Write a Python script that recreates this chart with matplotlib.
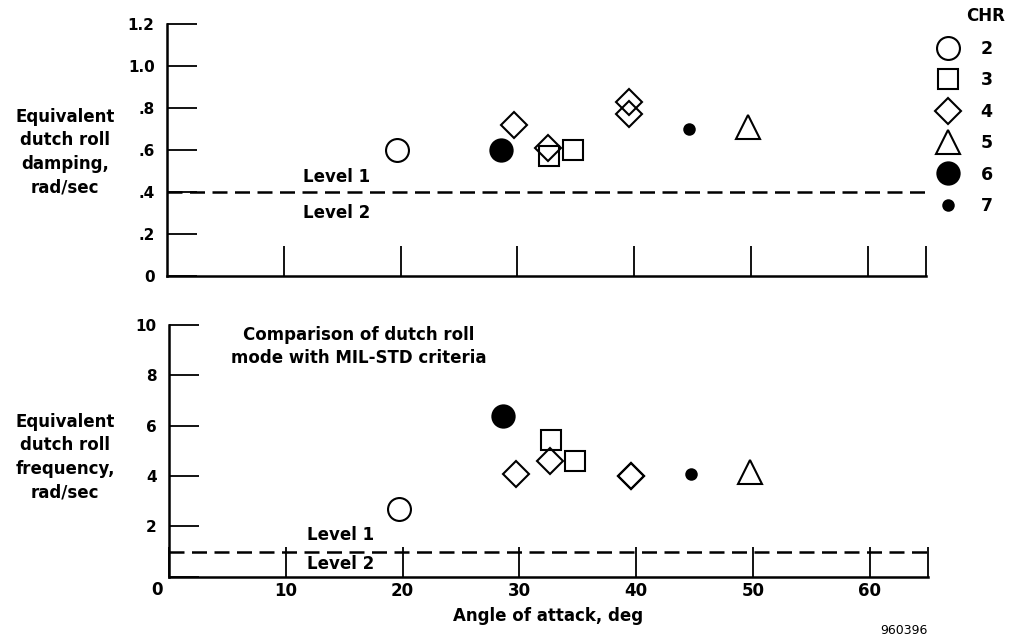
import matplotlib.pyplot as plt
from matplotlib.lines import Line2D

plt.rcParams["font.family"] = ["DejaVu Sans"]
plt.rcParams["font.weight"] = "bold"

# Data, grouped by Cooper-Harper rating (CHR)
chr_ratings = ["2", "3", "4", "5", "6", "7"]

# angle of attack, deg
alpha_chr2 = [19.7]
alpha_chr3 = [32.7, 34.8]
alpha_chr4 = [29.7, 32.6, 39.6, 39.6]
alpha_chr5 = [49.8]
alpha_chr6 = [28.6]
alpha_chr7 = [44.7]

# equivalent dutch roll damping
damp_chr2 = [0.60]
damp_chr3 = [0.57, 0.60]
damp_chr4 = [0.72, 0.61, 0.83, 0.77]
damp_chr5 = [0.71]
damp_chr6 = [0.60]
damp_chr7 = [0.70]

# equivalent dutch roll frequency, rad/sec
freq_chr2 = [2.7]
freq_chr3 = [5.45, 4.6]
freq_chr4 = [4.1, 4.6, 4.0, 4.0]
freq_chr5 = [4.15]
freq_chr6 = [6.4]
freq_chr7 = [4.1]

# MIL-STD level 1 / level 2 boundaries
damp_limit = 0.4
freq_limit = 1.0

alphas = [alpha_chr2, alpha_chr3, alpha_chr4, alpha_chr5, alpha_chr6, alpha_chr7]
damps = [damp_chr2, damp_chr3, damp_chr4, damp_chr5, damp_chr6, damp_chr7]
freqs = [freq_chr2, freq_chr3, freq_chr4, freq_chr5, freq_chr6, freq_chr7]

# marker style for each rating
styles = [
    dict(marker="o", markersize=16.5, markerfacecolor="white"),
    dict(marker="s", markersize=14.5, markerfacecolor="none"),
    dict(marker="D", markersize=13.5, markerfacecolor="none"),
    dict(marker="^", markersize=17.5, markerfacecolor="white"),
    dict(marker="o", markersize=16.0, markerfacecolor="black"),
    dict(marker="o", markersize=7.5, markerfacecolor="black"),
]

fig = plt.figure(figsize=(10.13, 6.36), dpi=100)
ax_top = fig.add_axes([0.165, 0.566, 0.749, 0.396])
ax_bot = fig.add_axes([0.167, 0.093, 0.749, 0.396])


def style_axes(ax):
    for side in ["top", "right"]:
        ax.spines[side].set_visible(False)
    for side in ["left", "bottom"]:
        ax.spines[side].set_linewidth(1.8)
    ax.tick_params(axis="both", direction="in", length=21.5, width=1.3, color="black")
    ax.tick_params(axis="y", labelsize=11, pad=9)
    ax.tick_params(axis="x", labelsize=12, pad=4)
    ax.set_xlim(0, 65)


# top panel: damping
style_axes(ax_top)
ax_top.set_ylim(0, 1.2)
ax_top.set_yticks([0, 0.2, 0.4, 0.6, 0.8, 1.0, 1.2])
ax_top.set_yticklabels(["0", ".2", ".4", ".6", ".8", "1.0", "1.2"])
ax_top.set_xticks([10, 20, 30, 40, 50, 60, 65])
ax_top.set_xticklabels([])
ax_top.axhline(damp_limit, color="black", lw=1.8, ls=(0, (6, 3)))
ax_top.text(14.5, 0.47, "Level 1", ha="center", va="center", fontsize=12)
ax_top.text(14.5, 0.30, "Level 2", ha="center", va="center", fontsize=12)

# bottom panel: frequency
style_axes(ax_bot)
ax_bot.set_ylim(0, 10)
ax_bot.set_yticks([0, 2, 4, 6, 8, 10])
ax_bot.set_yticklabels(["", "2", "4", "6", "8", "10"])
ax_bot.set_xticks([0, 10, 20, 30, 40, 50, 60, 65])
ax_bot.set_xticklabels(["", "10", "20", "30", "40", "50", "60", ""])
ax_bot.axhline(freq_limit, color="black", lw=1.8, ls=(0, (6, 3)))
ax_bot.text(14.7, 1.65, "Level 1", ha="center", va="center", fontsize=12)
ax_bot.text(14.7, 0.5, "Level 2", ha="center", va="center", fontsize=12)
ax_bot.text(16.2, 9.15, "Comparison of dutch roll\nmode with MIL-STD criteria",
            ha="center", va="center", multialignment="center",
            fontsize=12, linespacing=1.4)
ax_bot.set_xlabel("Angle of attack, deg", fontsize=12, fontweight="bold", labelpad=5)

handles = []
for a, d, f, st in zip(alphas, damps, freqs, styles):
    ax_top.plot(a, d, ls="none", markeredgecolor="black", markeredgewidth=1.5,
                clip_on=False, **st)
    ax_bot.plot(a, f, ls="none", markeredgecolor="black", markeredgewidth=1.5,
                clip_on=False, **st)
    handles.append(Line2D([], [], ls="none", markeredgecolor="black",
                          markeredgewidth=1.5, **st))

# shared origin label
fig.text(157 / 1013, 1 - 590 / 636, "0", ha="center", va="center", fontsize=12)

# y axis labels
fig.text(65 / 1013, 1 - 152 / 636, "Equivalent\ndutch roll\ndamping,\nrad/sec",
         ha="center", va="center", multialignment="center", fontsize=12, linespacing=1.4)
fig.text(65 / 1013, 1 - 457 / 636, "Equivalent\ndutch roll\nfrequency,\nrad/sec",
         ha="center", va="center", multialignment="center", fontsize=12, linespacing=1.4)

# legend
fig.text(986 / 1013, 1 - 16 / 636, "CHR", ha="center", va="center", fontsize=12)
fig.legend(handles, chr_ratings, loc="upper left", bbox_to_anchor=(0.919, 0.937),
           frameon=False, fontsize=12.5, labelspacing=0.77, handlelength=2.0,
           handletextpad=0.85, borderpad=0, borderaxespad=0)

fig.text(928 / 1013, 1 - 630 / 636, "960396", ha="right", va="center",
         fontsize=9, fontweight="normal")

fig.savefig("out.png", dpi=100)
